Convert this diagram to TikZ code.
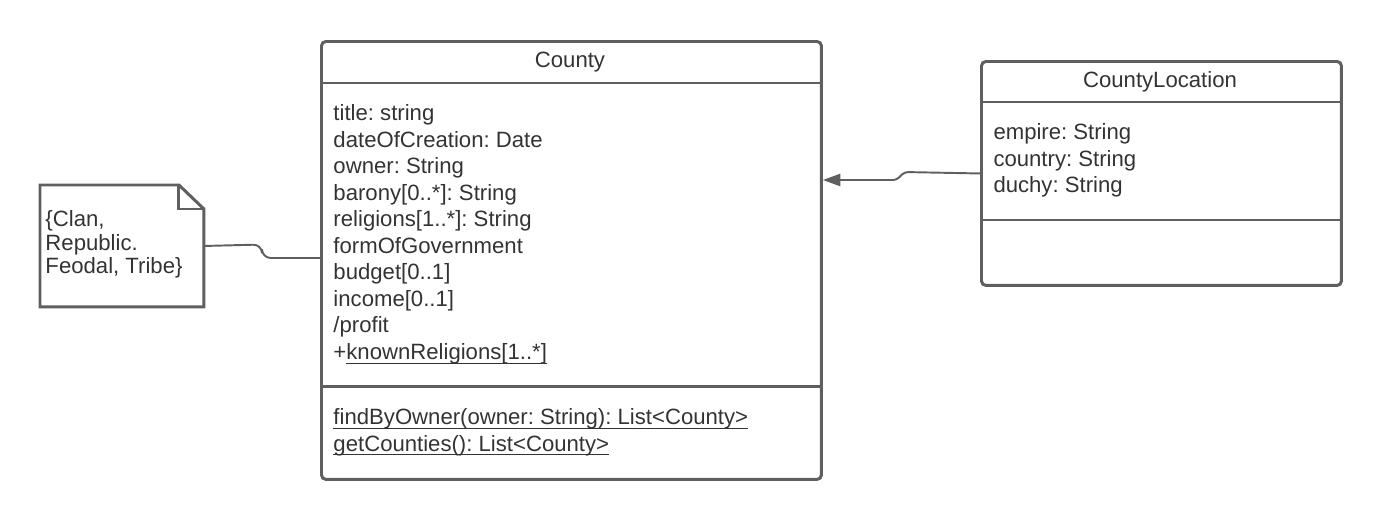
\documentclass[tikz,border=0pt]{standalone}
\usepackage{fontspec}
\setmainfont{Liberation Sans}
\usetikzlibrary{arrows.meta,positioning,calc}
\definecolor{umlline}{HTML}{5F5F5F}
\definecolor{umltext}{HTML}{333333}
\newcommand{\umlul}[1]{\setbox0\hbox{#1}\rlap{\rule[-2.5pt]{\wd0}{0.65pt}}\box0}
\frenchspacing
\tikzset{
  classbox/.style={draw, line width=1.7pt, rounded corners=2.5pt, anchor=north west, inner sep=0pt},
  attrs/.style={anchor=north west, align=left, inner sep=0pt},
  link/.style={line width=1.1pt},
}

\begin{document}
\begin{tikzpicture}[x=0.02cm, y=-0.02cm, color=umlline, text=umltext, line width=1.7pt,
    font=\fontsize{12.6}{15.1}\selectfont]
  \useasboundingbox (0,0) rectangle (1380,518);
  % class boxes
  \node[classbox, minimum width=10cm, minimum height=8.76cm] (county) at (320,40) {};
  \node[classbox, minimum width=7.2cm, minimum height=4.48cm] (location) at (980,60) {};
  \draw ($(county.north west)+(0,43)$) -- ($(county.north east)+(0,43)$);
  \draw ($(county.north west)+(0,346)$) -- ($(county.north east)+(0,346)$);
  \draw ($(location.north west)+(0,42)$) -- ($(location.north east)+(0,42)$);
  \draw ($(location.north west)+(0,160)$) -- ($(location.north east)+(0,160)$);
  % County
  \node[anchor=base] (countyname) at (570,67) {County};
  \node[attrs] (countyattrs) at (332,103) {title: string\\dateOfCreation: Date\\owner: String\\
    barony[0..*]: String\\religions[1..*]: String\\formOfGovernment\\budget[0..1]\\
    income[0..1]\\/profit\\+\umlul{knownReligions[1..*]}};
  \node[attrs] (countyops) at (332,407) {\umlul{findByOwner(owner: String): List<County>}\\
    \umlul{getCounties(): List<County>}};
  % CountyLocation
  \node[anchor=base] (locationname) at (1160,87) {CountyLocation};
  \node[attrs] (locationattrs) at (992,122) {empire: String\\country: String\\duchy: String};
  % note
  \node[minimum width=3.22cm, minimum height=2.38cm, anchor=north west, inner sep=0pt] (note) at (40,185) {};
  \draw (note.north west) -- ($(note.north east)+(-25,0)$) -- ($(note.north east)+(0,24)$)
    -- (note.south east) -- (note.south west) -- cycle;
  \draw ($(note.north east)+(-25,0)$) -- ($(note.north east)+(-25,24)$) -- ($(note.north east)+(0,24)$);
  \node[attrs, font=\fontsize{12.6}{13.4}\selectfont] (notetext) at (44,209) {\{Clan,\\Republic.\\Feodal, Tribe\}};
  % connectors
  \coordinate (notein) at (county.west |- 0,258);
  \coordinate (countyin) at (county.east |- 0,180);
  \draw[link, rounded corners=5] (note.east) -- (262,244.5) -- (262,258) -- (notein);
  \draw[link, -{Triangle[length=10pt,width=7pt]}, rounded corners=3] (location.west) -- (903,172) -- (898,180) -- (countyin);
\end{tikzpicture}
\end{document}
